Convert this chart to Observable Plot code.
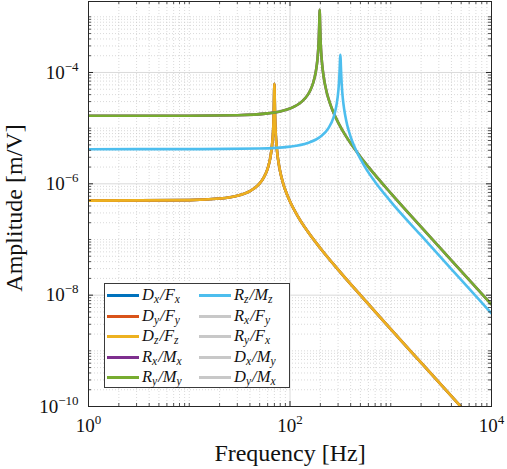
<!DOCTYPE html>
<html>
<head>
<meta charset="utf-8">
<script src="https://cdn.jsdelivr.net/npm/d3@7"></script>
<script src="https://cdn.jsdelivr.net/npm/@observablehq/plot@0.6"></script>
<style>
  body { margin: 0; background: #fff; }
  #wrap { position: relative; width: 507px; height: 469px; font-family: "Liberation Serif", "DejaVu Serif", serif; }
  #wrap svg, #wrap svg text { font-family: "Liberation Serif", "DejaVu Serif", serif !important; }
  #legend { position: absolute; left: 104px; top: 283px; width: 186px; height: 105px; box-sizing: border-box;
            border: 1px solid #3a3a3a; background: #fff; }
  .item { position: absolute; height: 20px; display: flex; align-items: center; white-space: nowrap; }
  .sw { display: inline-block; width: 32px; height: 3px; margin-right: 3px; }
  .lab { font-family: "Liberation Serif", "DejaVu Serif", serif; font-style: italic; font-size: 16.5px; line-height: 1; color: #111; }
  .lab sub { font-size: 70%; vertical-align: -0.25em; line-height: 0; margin-right: 1px; }
</style>
</head>
<body>
<div id="wrap"></div>
<script>
// ---- data ----
// translations D/F (Dx/Fx, Dy/Fy, Dz/Fz overlap)
const freqDF = [1, 10, 20, 30, 40, 45, 50, 55, 60, 64, 67, 68, 69, 70, 71, 72, 73, 75, 76, 80, 85, 90, 100, 120, 150, 200, 300, 500, 1000, 2000, 4000, 6000];
const ampDF  = [5.0e-7, 5.10e-7, 5.44e-7, 6.12e-7, 7.42e-7, 8.52e-7, 1.02e-6, 1.31e-6, 1.88e-6, 3.05e-6, 5.96e-6, 8.8e-6, 1.70e-5, 6.26e-5, 1.67e-5, 8.6e-6, 5.71e-6, 3.38e-6, 2.80e-6, 1.63e-6, 1.055e-6, 7.66e-7, 4.80e-7, 2.58e-7, 1.39e-7, 6.98e-8, 2.88e-8, 1.0e-8, 2.46e-9, 6.13e-10, 1.53e-10, 6.8e-11];
// rotations Rx/Mx, Ry/My (overlap)
const freqRM = [1, 10, 30, 60, 80, 100, 130, 150, 160, 170, 180, 185, 188, 191, 193, 195, 196, 197, 198, 199, 201, 203, 206, 210, 215, 230, 240, 260, 300, 350, 400, 500, 600, 1000, 2000, 5000, 10000];
const ampRM  = [1.67e-5, 1.674e-5, 1.71e-5, 1.84e-5, 2.0e-5, 2.25e-5, 2.96e-5, 3.97e-5, 4.91e-5, 6.54e-5, 1.01e-4, 1.41e-4, 1.85e-4, 2.73e-4, 3.97e-4, 7.05e-4, 1.04e-3, 1.34e-3, 1.035e-3, 6.96e-4, 3.89e-4, 2.65e-4, 1.79e-4, 1.23e-4, 8.74e-5, 4.6e-5, 3.45e-5, 2.25e-5, 1.27e-5, 7.74e-6, 5.35e-6, 3.07e-6, 2.02e-6, 6.8e-7, 1.68e-7, 2.7e-8, 6.8e-9];
// rotation Rz/Mz
const freqRz = [1, 10, 50, 100, 150, 200, 240, 270, 280, 290, 302, 306, 310, 312, 314, 316, 318, 320, 322, 326, 330, 335, 345, 360, 370, 400, 420, 450, 550, 700, 1000, 2000, 5000, 10000];
const ampRz  = [4.19e-6, 4.194e-6, 4.30e-6, 4.66e-6, 5.41e-6, 6.99e-6, 9.90e-6, 1.55e-5, 1.95e-5, 2.66e-5, 4.72e-5, 6.42e-5, 9.88e-5, 1.31e-4, 1.78e-4, 2.08e-4, 1.76e-4, 1.29e-4, 9.65e-5, 6.21e-5, 4.50e-5, 3.33e-5, 2.18e-5, 1.41e-5, 1.13e-5, 6.96e-6, 5.47e-6, 4.08e-6, 2.06e-6, 1.08e-6, 4.8e-7, 1.18e-7, 1.88e-8, 4.7e-9];

const seriesNames  = ["Dx/Fx", "Dy/Fy", "Dz/Fz", "Rx/Mx", "Ry/My", "Rz/Mz", "Rx/Fy", "Ry/Fx", "Dx/My", "Dy/Mx"];
const labelParts   = [["D","x","F","x"],["D","y","F","y"],["D","z","F","z"],["R","x","M","x"],["R","y","M","y"],
                      ["R","z","M","z"],["R","x","F","y"],["R","y","F","x"],["D","x","M","y"],["D","y","M","x"]];
const seriesColors = ["#0072BD", "#D95319", "#EDB120", "#7E2F8E", "#77AC30", "#4DBEEE", "#c8c8c8", "#c8c8c8", "#c8c8c8", "#c8c8c8"];
// which data each drawn series uses
const seriesData = {
  "Dx/Fx": [freqDF, ampDF], "Dy/Fy": [freqDF, ampDF], "Dz/Fz": [freqDF, ampDF],
  "Rx/Mx": [freqRM, ampRM], "Ry/My": [freqRM, ampRM], "Rz/Mz": [freqRz, ampRz]
};

const xMajor = [1, 100, 10000];
const yMajor = [1e-10, 1e-8, 1e-6, 1e-4];
const yTop = Math.pow(10, -2.725);

// minor ticks: 2..9 x 10^k and odd decades
const xMinor = [];
for (let k = 0; k < 4; k++) for (let m = 1; m <= 9; m++) { const v = m * Math.pow(10, k); if (!xMajor.includes(v)) xMinor.push(v); }
const yMinor = [];
for (let k = -10; k <= -3; k++) for (let m = 1; m <= 9; m++) {
  const v = m * Math.pow(10, k);
  if (v <= yTop && !yMajor.some(t => Math.abs(t - v) / v < 1e-9)) yMinor.push(v);
}

// ---- layout ----
const W = 507, H = 469, mL = 88, mR = 16, mT = 1, mB = 63;
const iW = W - mL - mR, iH = H - mT - mB;
const axisColor = "#262626";
const serif = '"Liberation Serif", "DejaVu Serif", serif';

const lineMarks = Object.keys(seriesData).map(name => {
  const [f, a] = seriesData[name];
  const rows = f.map((v, i) => ({f: v, a: a[i]}));
  return Plot.line(rows, {x: "f", y: "a", stroke: seriesColors[seriesNames.indexOf(name)], strokeWidth: 2.6, curve: "monotone-x", clip: true});
});

const plot = Plot.plot({
  width: W, height: H,
  marginLeft: mL, marginRight: mR, marginTop: mT, marginBottom: mB,
  style: {background: "#fff", fontFamily: serif, color: "#262626"},
  x: {type: "log", domain: [1, 1e4]},
  y: {type: "log", domain: [1e-10, yTop]},
  marks: [
    Plot.ruleX(xMinor, {x: d => d, stroke: "#c9c9c9", strokeWidth: 0.7, strokeDasharray: "1,2"}),
    Plot.ruleY(yMinor, {y: d => d, stroke: "#c9c9c9", strokeWidth: 0.7, strokeDasharray: "1,2"}),
    Plot.ruleX(xMajor, {x: d => d, stroke: "#dadada", strokeWidth: 1}),
    Plot.ruleY(yMajor, {y: d => d, stroke: "#dadada", strokeWidth: 1}),
    ...lineMarks,
    // inward ticks on all four sides
    Plot.tickX(xMajor, {x: d => d, insetTop: iH - 5, stroke: axisColor}),
    Plot.tickX(xMajor, {x: d => d, insetBottom: iH - 5, stroke: axisColor}),
    Plot.tickX(xMinor, {x: d => d, insetTop: iH - 3, stroke: axisColor, strokeWidth: 0.8}),
    Plot.tickX(xMinor, {x: d => d, insetBottom: iH - 3, stroke: axisColor, strokeWidth: 0.8}),
    Plot.tickY(yMajor, {y: d => d, insetRight: iW - 5, stroke: axisColor}),
    Plot.tickY(yMajor, {y: d => d, insetLeft: iW - 5, stroke: axisColor}),
    Plot.tickY(yMinor, {y: d => d, insetRight: iW - 3, stroke: axisColor, strokeWidth: 0.8}),
    Plot.tickY(yMinor, {y: d => d, insetLeft: iW - 3, stroke: axisColor, strokeWidth: 0.8}),
    Plot.frame({stroke: axisColor, strokeWidth: 1}),
    Plot.axisX(xMajor, {tickSize: 0, tickPadding: 12, fontSize: 19, fontFamily: serif, label: null,
      tickFormat: d => "10^" + Math.round(Math.log10(d))}),
    Plot.axisY(yMajor, {tickSize: 0, tickPadding: 10, fontSize: 19, fontFamily: serif, label: null,
      tickFormat: d => "10^" + Math.round(Math.log10(d))}),
    Plot.text(["Frequency [Hz]"], {frameAnchor: "bottom", lineAnchor: "bottom", dy: 54, fontSize: 24, fontFamily: serif, fill: "#111"}),
    Plot.text(["Amplitude [m/V]"], {frameAnchor: "left", textAnchor: "middle", lineAnchor: "bottom", rotate: -90, dx: -67, dy: 4, fontSize: 24, fontFamily: serif, fill: "#111"})
  ]
});

// superscripts for tick labels
plot.querySelectorAll('[aria-label="x-axis tick label"] text, [aria-label="y-axis tick label"] text').forEach(t => {
  const s = t.textContent;
  if (!s.includes("^")) return;
  const [b, e] = s.split("^");
  t.textContent = "";
  const ns = "http://www.w3.org/2000/svg";
  const t1 = document.createElementNS(ns, "tspan"); t1.textContent = b;
  const t2 = document.createElementNS(ns, "tspan"); t2.textContent = e.replace("-", "\u2212");
  t2.setAttribute("dy", "-8"); t2.setAttribute("font-size", "13");
  t.appendChild(t1); t.appendChild(t2);
  t.setAttribute("fill", "#111");
});

const wrap = document.getElementById("wrap");
wrap.appendChild(plot);

// legend
const legend = document.createElement("div");
legend.id = "legend";
seriesNames.forEach((n, i) => {
  const col = Math.floor(i / 5), row = i % 5;
  const item = document.createElement("div");
  item.className = "item";
  item.style.left = (2 + col * 92) + "px";
  item.style.top = Math.round(1 + row * 20.6) + "px";
  const sw = document.createElement("span");
  sw.className = "sw"; sw.style.background = seriesColors[i];
  const lab = document.createElement("span");
  lab.className = "lab";
  const p = labelParts[i];
  lab.innerHTML = `${p[0]}<sub>${p[1]}</sub>/${p[2]}<sub>${p[3]}</sub>`;
  item.appendChild(sw); item.appendChild(lab);
  legend.appendChild(item);
});
wrap.appendChild(legend);
</script>
</body>
</html>
